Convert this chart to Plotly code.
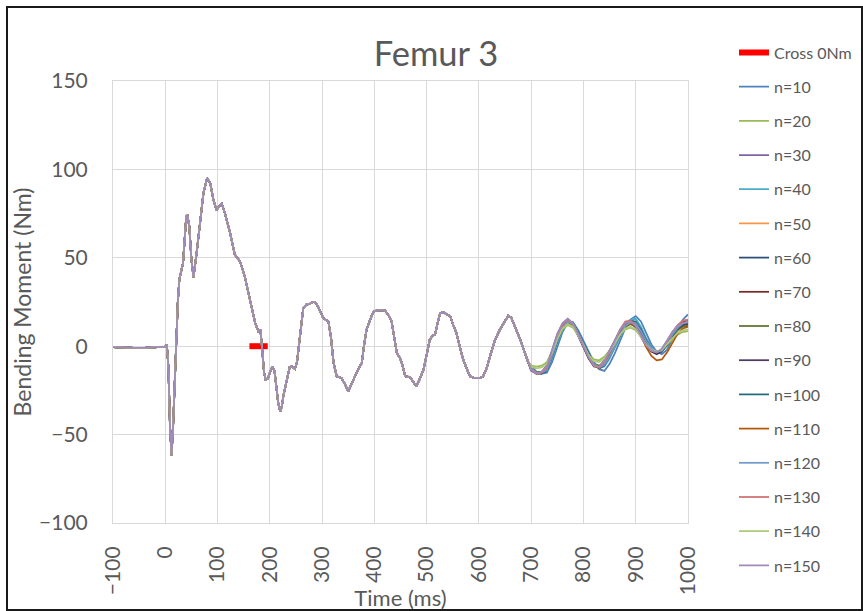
import plotly.graph_objects as go

# ---------------- data ----------------
time_common = [-100, -80, -60, -40, -20, 0, 3, 6, 9, 12, 15, 18, 21, 24, 27, 31, 34, 37, 40, 42,
               46, 50, 54, 60, 66, 73, 80, 86, 92, 98, 103, 108, 114, 124, 133, 143, 152, 162, 172, 178,
               182, 186, 189, 192, 196, 200, 205, 209, 213, 216, 220, 223, 226, 232, 238, 243, 248, 252, 258, 264,
               270, 277, 283, 287, 293, 302, 312, 317, 322, 328, 337, 343, 350, 356, 363, 370, 376, 380, 385, 392,
               398, 405, 413, 420, 426, 433, 438, 443, 449, 453, 459, 468, 474, 480, 486, 494, 500, 506, 512, 516,
               521, 526, 532, 538, 545, 551, 557, 564, 570, 577, 583, 592, 602, 608, 615, 622, 631, 640, 648, 656,
               662, 672, 680, 688, 694]
moment_common = [-0.5, -0.8, -1.0, -0.9, -0.6, -0.2, 0.8, -12, -45, -62, -45, -20, 5, 25, 38, 44, 47, 60, 72.7, 74.6,
                 67.8, 49, 39, 52.8, 67.8, 86.6, 95, 92.3, 82.9, 77, 79, 80.6, 75.3, 64, 51.8, 48, 39.5, 26.3, 13.1, 8.4,
                 9.3, -3.9, -15, -19, -18.5, -15, -11.4, -14, -24.6, -32, -37, -34, -28, -19, -11.8, -11.5, -12.9, -9, 5, 21.6,
                 23.5, 24, 25, 24.8, 22, 16, 14, 5, -9.5, -17, -18, -21, -25.6, -22, -17, -12.5, -9.5, 0, 9.3, 15,
                 19.5, 20.3, 20.5, 20.3, 18, 14, 5, -3.9, -6.7, -10, -17, -17.5, -20, -22.7, -19, -13.3, -5, 3.7, 6, 6.5,
                 13, 18.8, 19.2, 18, 16.9, 12, 7.5, -1, -7.6, -13, -17, -18, -18, -17, -12.3, -5, 3.7, 9.3, 13, 17.2,
                 16, 9.3, 3, -3.9, -9]

time_tail = [700, 710, 720, 730, 740, 750, 760, 770, 780, 790, 800, 810, 820, 830, 840, 850,
             860, 870, 880, 890, 900, 910, 920, 930, 940, 950, 960, 970, 980, 990, 1000]

tail_n10 = [-11, -14.5, -15.5, -15, -9, 0, 8, 13.5, 13.5, 9, 3, -3, -9, -13, -14, -10,
            -4, 3, 10, 15, 17, 14, 7, 1, -3, -4.5, -2, 4, 10, 15, 18]
tail_n20 = [-11, -11.5, -11, -9, -3, 4, 9.5, 12, 10.5, 6, 0.5, -4.5, -7.5, -8, -6, -2.5,
            2, 6.5, 9.5, 10.5, 9, 5.5, 1.5, -1.5, -3, -2, 1, 4, 6.5, 8, 8.5]
tail_n30 = [-14, -15.5, -14.5, -11, -2, 7, 13, 15.5, 12.5, 6, -0.5, -7, -11, -11.5, -8, -2.5,
            3.5, 9, 13, 13.5, 10.5, 5, 0, -3, -3.5, -1.5, 3, 7.5, 10.5, 12, 12.5]
tail_n40 = [-11.5, -15, -15.5, -14, -7, 2, 9.5, 14, 13.5, 8.5, 2, -4.5, -10, -12.5, -11.5, -7,
            -1, 5.5, 11.5, 15, 15.5, 11, 4.5, -0.5, -3.5, -3, 0.5, 6, 10.5, 13, 14]
tail_n50 = [-13, -15, -14.5, -12, -4, 5, 11.5, 14, 12, 6.5, 0.5, -6, -10.5, -11.5, -9, -4,
            2, 8, 12, 13, 11, 6, 1, -2.5, -4, -3, 1, 6, 9.5, 11.5, 12]
tail_n60 = [-12.5, -15.5, -15.5, -13.5, -5.5, 3.5, 10.5, 14, 12.5, 7.5, 1.5, -5, -10.5, -12.5, -10.5, -5.5,
            0.5, 6.5, 11.5, 13.5, 12.5, 8, 2.5, -1.5, -3.5, -3, 1, 6, 9.5, 12, 13]
tail_n70 = [-12, -15, -15, -13, -4.5, 4.5, 11.5, 15, 13, 7.5, 1, -5.5, -10.5, -12, -10, -5,
            1.5, 8, 12.5, 14, 12.5, 7.5, 2, -2, -3.5, -2.5, 2, 7, 11, 13.5, 14.5]
tail_n80 = [-12.5, -14.5, -14.5, -12.5, -5, 3.5, 10, 13, 11.5, 6.5, 0.5, -5.5, -10, -11, -9, -4.5,
            1, 7, 11, 12.5, 11, 6.5, 1.5, -2, -3.5, -2.5, 1, 5.5, 9, 11, 11.5]
tail_n90 = [-13.5, -15.5, -15, -12.5, -4, 5, 12, 14.5, 12, 6, -0.5, -7, -11.5, -12, -9, -3.5,
            2.5, 8.5, 12.5, 13.5, 11, 5.5, 0.5, -3, -4.5, -3, 1.5, 6.5, 10, 12, 12.5]
tail_n100 = [-12, -15, -15.5, -14, -6, 3, 10.5, 14.5, 13, 8, 2, -4.5, -10, -12.5, -11, -6,
             0, 6.5, 12, 14.5, 14, 9.5, 3.5, -1, -3.5, -3, 0.5, 5.5, 10, 12.5, 13.5]
tail_n110 = [-13, -15.5, -15, -12.5, -4.5, 4.5, 11, 14, 12, 6.5, 0, -6.5, -11, -12.5, -10, -5,
             1, 7, 11.5, 13, 11.5, 6, -0.5, -5.5, -8, -7.5, -3.5, 2, 7, 10, 11]
tail_n120 = [-12, -15, -15, -13.5, -5.5, 3.5, 10.5, 14, 12.5, 7.5, 1.5, -5, -10, -12, -10.5, -6,
             0, 6.5, 11.5, 13.5, 13, 8.5, 3, -1, -3, -2.5, 1.5, 6.5, 10.5, 13, 14]
tail_n130 = [-13, -15.5, -15, -12, -3.5, 5.5, 12, 15, 13, 7, 0.5, -6, -11, -12, -9, -3.5,
             3, 9.5, 14, 14.5, 11.5, 6, 0.5, -2.5, -3.5, -2, 2.5, 8, 12, 14.5, 15]
tail_n140 = [-11.5, -12.5, -12, -10, -3.5, 4, 10, 12.5, 11, 6, 0.5, -5, -8.5, -9, -7, -3,
             2, 6.5, 10, 11, 9.5, 5.5, 1, -2, -3, -2, 1, 4.5, 7.5, 9, 9.5]
tail_n150 = [-13.5, -15.5, -14.5, -11.5, -2.5, 6.5, 13, 15.5, 13, 6.5, 0, -6.5, -11, -11.5, -8.5, -3,
             3, 9, 13, 14, 11.5, 6, 0.5, -2.5, -3.5, -1.5, 3, 8, 11.5, 13, 13.5]

series_names = ["n=10", "n=20", "n=30", "n=40", "n=50", "n=60", "n=70", "n=80",
                "n=90", "n=100", "n=110", "n=120", "n=130", "n=140", "n=150"]
series_tails = [tail_n10, tail_n20, tail_n30, tail_n40, tail_n50, tail_n60, tail_n70, tail_n80,
                tail_n90, tail_n100, tail_n110, tail_n120, tail_n130, tail_n140, tail_n150]
series_colors = ["#4F81BD", "#9BBB59", "#8064A2", "#4BACC6", "#F79646", "#2C4D75", "#772C2A", "#5F7530",
                 "#4D3B62", "#276A7C", "#B65708", "#729ACA", "#CD7371", "#AFC97A", "#A08BB8"]

cross_name = "Cross 0Nm"
cross_time = [161, 196]
cross_moment = [0, 0]

x_ticks = [-100, 0, 100, 200, 300, 400, 500, 600, 700, 800, 900, 1000]
y_ticks = [-100, -50, 0, 50, 100, 150]

# ---------------- figure ----------------
FONT = "Lato"
TXT = "#595959"
GRID = "#D9D9D9"

fig = go.Figure()
fig.add_trace(go.Scatter(x=cross_time, y=cross_moment, mode="lines", name=cross_name,
                         line=dict(color="#FF0000", width=6), legendgroup="g0"))
for i, (nm, tl, col) in enumerate(zip(series_names, series_tails, series_colors)):
    fig.add_trace(go.Scatter(x=time_common + time_tail, y=moment_common + tl, mode="lines", name=nm,
                             line=dict(color=col, width=1.75), legendgroup=f"g{i + 1}"))

L, R, T, B = 113, 175, 81, 88
W, H = 863, 611
pw, ph = W - L - R, H - T - B


def px_x(p):
    return (p - L) / pw


def px_y(p):
    return (H - B - p) / ph


fig.update_layout(
    width=W, height=H,
    margin=dict(l=L, r=R, t=T, b=B, autoexpand=False),
    paper_bgcolor="white", plot_bgcolor="white",
    font=dict(family=FONT, color=TXT),
    title=dict(text="Femur 3", font=dict(size=34.5, color=TXT, family=FONT),
               x=px_x(436), xref="paper", xanchor="center",
               y=1 - 54 / H, yref="container", yanchor="middle"),
    showlegend=True,
    legend=dict(x=px_x(734), y=px_y(35.5), xanchor="left", yanchor="top",
                font=dict(size=16, color=TXT, family=FONT),
                traceorder="grouped", tracegroupgap=10.4, bgcolor="rgba(0,0,0,0)",
                itemwidth=30, maxheight=605),
    xaxis=dict(range=[-100, 1000], tickvals=x_ticks, tickangle=-90,
               showgrid=True, gridcolor=GRID, gridwidth=1, zeroline=False,
               showline=True, linecolor=GRID, linewidth=1, mirror=True,
               ticks="", ticklabelstandoff=14,
               tickfont=dict(size=21, color=TXT, family=FONT),
               title=dict(text="Time (ms)", font=dict(size=22, color=TXT, family=FONT), standoff=3)),
    yaxis=dict(range=[-100, 150], tickvals=y_ticks,
               showgrid=True, gridcolor=GRID, gridwidth=1, zeroline=False,
               showline=True, linecolor=GRID, linewidth=1, mirror=True,
               ticks="", ticklabelstandoff=20,
               tickfont=dict(size=21, color=TXT, family=FONT),
               title=dict(text="Bending Moment (Nm)", font=dict(size=23, color=TXT, family=FONT), standoff=1)),
    shapes=[dict(type="rect", xref="paper", yref="paper",
                 x0=px_x(7), x1=px_x(862), y0=px_y(610), y1=px_y(7),
                 line=dict(color="#1a1a1a", width=2), fillcolor="rgba(0,0,0,0)", layer="below")],
)

fig.write_html("out.html", config={"displayModeBar": False},
               post_script="document.body.style.margin='0';document.body.style.overflow='hidden';")
